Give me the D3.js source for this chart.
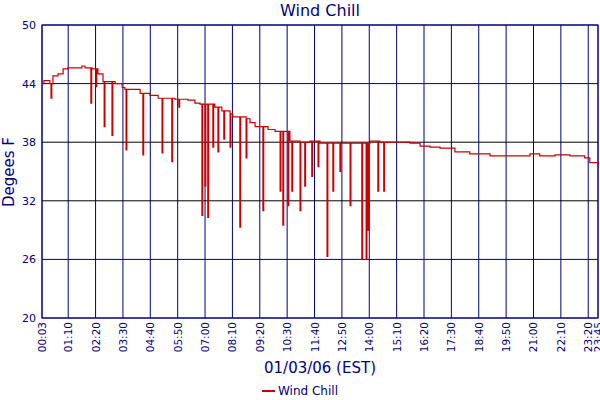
<!DOCTYPE html>
<html>
<head>
<meta charset="utf-8">
<script src="https://cdn.jsdelivr.net/npm/d3@7"></script>
<style>
body { margin: 0; background: #fff; }
text { font-family: "DejaVu Sans", Verdana, sans-serif; fill: #000080; }
</style>
</head>
<body>
<svg id="chart" width="600" height="400"></svg>
<script>
// minutes after midnight and wind chill readings
const baseMinutes = [3, 8, 23, 31, 44, 57, 69, 105, 113, 131, 146, 159, 190, 208, 215, 254, 279, 300, 343, 376, 394, 407, 445, 463, 484, 491, 527, 535, 548, 566, 581, 599, 637, 663, 688, 714, 842, 867, 944, 970, 995, 1021, 1059, 1097, 1149, 1174, 1251, 1276, 1315, 1353, 1391, 1404, 1425];
const baseValues = [44.0, 44.3, 44.0, 44.8, 45.0, 45.5, 45.6, 45.8, 45.6, 45.5, 45.0, 44.2, 44.0, 43.6, 43.4, 43.0, 42.8, 42.5, 42.4, 42.3, 42.0, 41.9, 41.6, 41.2, 40.9, 40.6, 40.4, 40.0, 39.6, 39.6, 39.3, 39.1, 38.1, 38.0, 38.1, 37.9, 38.1, 38.0, 37.9, 37.6, 37.5, 37.4, 37.0, 36.8, 36.6, 36.6, 36.8, 36.6, 36.7, 36.6, 36.4, 35.9, 35.5];
const dropMinutes = [26, 128, 141, 162, 182, 218, 261, 310, 335, 353, 412, 420, 427, 440, 453, 468, 484, 509, 525, 568, 612, 619, 632, 642, 663, 675, 693, 709, 732, 747, 765, 791, 821, 832, 837, 862, 877];
const dropValues = [42.5, 42.0, 43.7, 39.6, 38.7, 37.2, 36.7, 36.9, 36.0, 41.6, 30.5, 33.5, 30.3, 37.5, 37.0, 38.3, 37.5, 29.3, 36.4, 31.0, 33.0, 29.5, 31.5, 33.0, 31.0, 33.5, 34.5, 35.5, 26.3, 33.0, 35.0, 31.5, 26.0, 26.0, 29.0, 33.0, 33.0];
const xTickLabels = ['00:03', '01:10', '02:20', '03:30', '04:40', '05:50', '07:00', '08:10', '09:20', '10:30', '11:40', '12:50', '14:00', '15:10', '16:20', '17:30', '18:40', '19:50', '21:00', '22:10', '23:20', '23:45'];
const yTicks = [20, 26, 32, 38, 44, 50];

const toMin = (s) => +s.slice(0, 2) * 60 + +s.slice(3);
const baseAt = (t) => {
	let v = baseValues[0];
	baseMinutes.forEach((m, i) => { if (m <= t) v = baseValues[i]; });
	return v;
};

let series = baseMinutes.map((m, i) => ({ t: m, v: baseValues[i] }));
dropMinutes.forEach((m, i) => {
	series.push({ t: m, v: dropValues[i] });
	series.push({ t: m + 2, v: baseAt(m + 2) });
});
series.sort((a, b) => a.t - b.t);

const svg = d3.select('#chart');
const plotLeft = 42, plotRight = 598, plotTop = 25, plotBottom = 318;

const x = d3.scaleLinear().domain([3, 1425]).range([plotLeft, plotRight]);
const y = d3.scaleLinear().domain([20, 50]).range([plotBottom, plotTop]);

// grid
svg.selectAll('.vgrid')
	.data(xTickLabels)
	.join('line')
	.attr('x1', (d) => x(toMin(d))).attr('x2', (d) => x(toMin(d)))
	.attr('y1', plotTop).attr('y2', plotBottom)
	.attr('stroke', '#000080').attr('stroke-width', 1);

svg.selectAll('.hgrid')
	.data(yTicks)
	.join('line')
	.attr('x1', plotLeft).attr('x2', plotRight)
	.attr('y1', (d) => y(d)).attr('y2', (d) => y(d))
	.attr('stroke', (d) => (d === 38 || d === 32 ? '#000000' : '#000080')).attr('stroke-width', 1);

svg.append('rect')
	.attr('x', plotLeft).attr('y', plotTop).attr('width', plotRight - plotLeft).attr('height', plotBottom - plotTop)
	.attr('fill', 'none').attr('stroke', '#000080');

// line
svg.append('path')
	.datum(series)
	.attr('fill', 'none')
	.attr('stroke', '#cc0000')
	.attr('stroke-width', 1.2)
	.attr('d', d3.line().x((d) => x(d.t)).y((d) => y(d.v)).curve(d3.curveStepAfter));

// y labels
svg.selectAll('.ylab')
	.data(yTicks)
	.join('text')
	.attr('x', plotLeft - 6).attr('y', (d) => y(d) + 4)
	.attr('text-anchor', 'end')
	.style('font-size', '11px')
	.text((d) => d);

// x labels
svg.selectAll('.xlab')
	.data(xTickLabels)
	.join('text')
	.attr('transform', (d) => `translate(${x(toMin(d)) + 4},${plotBottom + 4}) rotate(-90)`)
	.attr('text-anchor', 'end')
	.style('font-size', '10.5px')
	.text((d) => d);

svg.append('text').attr('x', 320).attr('y', 16).attr('text-anchor', 'middle')
	.style('font-size', '16px').text('Wind Chill');
svg.append('text').attr('transform', 'translate(14,172) rotate(-90)').attr('text-anchor', 'middle')
	.style('font-size', '15px').text('Degees F');
svg.append('text').attr('x', 320).attr('y', 373).attr('text-anchor', 'middle')
	.style('font-size', '15px').text('01/03/06 (EST)');

svg.append('line').attr('x1', 262).attr('x2', 275).attr('y1', 391).attr('y2', 391)
	.attr('stroke', '#cc0000').attr('stroke-width', 2);
svg.append('text').attr('x', 278).attr('y', 395).style('font-size', '12px').text('Wind Chill');
</script>
</body>
</html>
